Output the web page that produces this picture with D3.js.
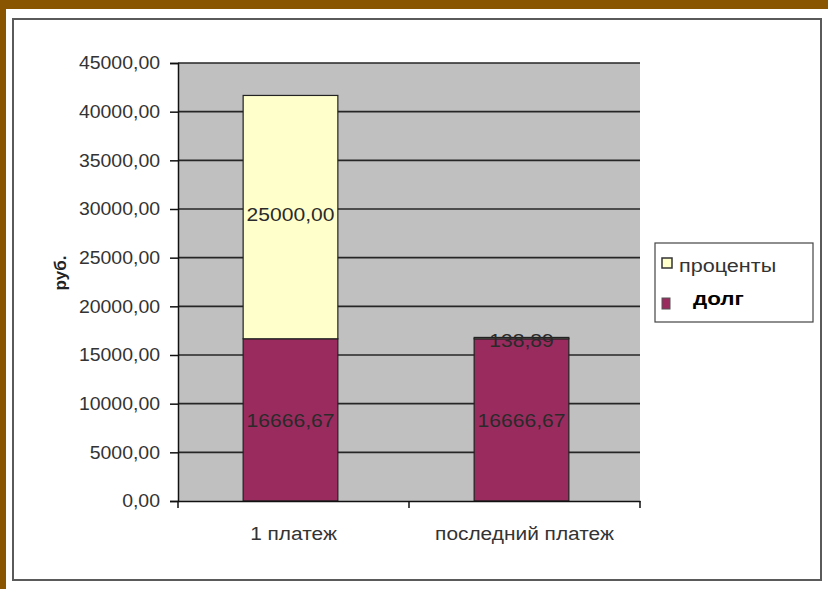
<!DOCTYPE html>
<html>
<head>
<meta charset="utf-8">
<script src="https://cdn.jsdelivr.net/npm/d3@7"></script>
<style>
  body { margin: 0; background: #fff; }
  text { font-family: "Liberation Sans", Arial, sans-serif; }
</style>
</head>
<body>
<svg id="chart" width="828" height="589"></svg>
<script>
// data
var categories = ['1 платеж', 'последний платеж'];
var debt = [16666.67, 16666.67];       // долг
var interest = [25000.00, 138.89];     // проценты
var seriesNames = ['проценты', 'долг'];
var yTicks = [0, 5000, 10000, 15000, 20000, 25000, 30000, 35000, 40000, 45000];

var svg = d3.select("svg");

// the old excel picture is a bit stretched sideways, so widen the glyphs
function stretch(sel, k)
{
  sel.each(function() {
    var w = this.getComputedTextLength();
    d3.select(this).attr("textLength", w * k).attr("lengthAdjust", "spacingAndGlyphs");
  });
}

// brown frame and white card
svg.append("rect").attr("x", 0).attr("y", 0).attr("width", 828).attr("height", 589).attr("fill", "#8a5500");
svg.append("rect").attr("x", 6).attr("y", 9).attr("width", 822).attr("height", 580).attr("fill", "#fff");
svg.append("rect").attr("x", 13).attr("y", 19).attr("width", 808).attr("height", 561)
   .attr("fill", "none").attr("stroke", "#5a5a5a").attr("stroke-width", 2);

var pLeft = 178, pRight = 640, pTop = 63, pBottom = 501;

var y = d3.scaleLinear().domain([0, 45000]).range([pBottom, pTop]);
var x = d3.scaleBand().domain(categories).range([pLeft, pRight]).padding(0);
var barW = x.bandwidth() * 0.41;

var fmt = function(v) { return d3.format(".2f")(v).replace('.', ','); };

// plot area
svg.append("rect").attr("x", pLeft).attr("y", pTop).attr("width", pRight - pLeft).attr("height", pBottom - pTop)
   .attr("fill", "#c0c0c0");

// gridlines
svg.append("g").selectAll("line").data(yTicks.slice(1)).enter().append("line")
   .attr("x1", pLeft).attr("x2", pRight)
   .attr("y1", function(d) { return y(d); }).attr("y2", function(d) { return y(d); })
   .attr("stroke", "#262626").attr("stroke-width", 1.6);

// stacked bars
var stack = categories.map(function(c, i) { return {cat: c, debt: debt[i], interest: interest[i]}; });

var bars = svg.append("g");
bars.selectAll(".debt").data(stack).enter().append("rect")
   .attr("class", "debt")
   .attr("x", function(d) { return x(d.cat) + x.bandwidth() / 2 - barW / 2 - 3; })
   .attr("y", function(d) { return y(d.debt); })
   .attr("width", barW)
   .attr("height", function(d) { return y(0) - y(d.debt); })
   .attr("fill", "#9a2b5f").attr("stroke", "#222").attr("stroke-width", 1.2);

bars.selectAll(".interest").data(stack).enter().append("rect")
   .attr("class", "interest")
   .attr("x", function(d) { return x(d.cat) + x.bandwidth() / 2 - barW / 2 - 3; })
   .attr("y", function(d) { return y(d.debt + d.interest); })
   .attr("width", barW)
   .attr("height", function(d) { return y(d.debt) - y(d.debt + d.interest); })
   .attr("fill", "#ffffcc").attr("stroke", "#222").attr("stroke-width", 1.2);

// value labels
var lab = svg.append("g").style("font-size", "18px").attr("fill", "#2a2a2a").attr("text-anchor", "middle");
lab.selectAll(".ld").data(stack).enter().append("text")
   .attr("class", "ld")
   .attr("x", function(d) { return x(d.cat) + x.bandwidth() / 2 - 3; })
   .attr("y", function(d) { return y(d.debt / 2) + 7; })
   .text(function(d) { return fmt(d.debt); });
lab.selectAll(".li").data(stack).enter().append("text")
   .attr("class", "li")
   .attr("x", function(d) { return x(d.cat) + x.bandwidth() / 2 - 3; })
   .attr("y", function(d, i) { return y(d.debt + d.interest / 2) + (i == 0 ? 4 : 9); })
   .text(function(d) { return fmt(d.interest); });
stretch(lab.selectAll("text"), 1.17);

// y axis
var yAxis = svg.append("g").attr("transform", "translate(" + pLeft + ",0)")
   .call(d3.axisLeft(y).tickValues(yTicks).tickFormat(fmt).tickSize(8).tickPadding(10));
yAxis.select(".domain").attr("stroke", "#111").attr("stroke-width", 1.5);
yAxis.selectAll(".tick line").attr("stroke", "#111").attr("stroke-width", 1.5);
yAxis.selectAll("text").style("font-size", "18px").attr("fill", "#333");
stretch(yAxis.selectAll("text"), 1.08);

// x axis
var xAxis = svg.append("g").attr("transform", "translate(0," + pBottom + ")")
   .call(d3.axisBottom(x).tickSize(0).tickPadding(26));
xAxis.select(".domain").attr("stroke", "#111").attr("stroke-width", 1.5);
xAxis.selectAll("text").style("font-size", "18px").attr("fill", "#333");
stretch(xAxis.selectAll("text"), 1.16);
xAxis.selectAll(".edge").data(categories.map(function(c) { return x(c); }).concat([pRight]))
   .enter().append("line").attr("class", "edge")
   .attr("x1", function(d) { return d; }).attr("x2", function(d) { return d; })
   .attr("y1", 0).attr("y2", 7).attr("stroke", "#111").attr("stroke-width", 1.5);

// y title
svg.append("text").attr("transform", "translate(66,273) rotate(-90)")
   .attr("text-anchor", "middle").style("font-size", "17px").style("font-weight", "bold")
   .attr("fill", "#222").text("руб.");

// legend
var lg = svg.append("g");
lg.append("rect").attr("x", 655).attr("y", 243).attr("width", 158).attr("height", 79)
   .attr("fill", "#fff").attr("stroke", "#444").attr("stroke-width", 1.2);
lg.append("rect").attr("x", 662).attr("y", 258).attr("width", 10).attr("height", 10)
   .attr("fill", "#ffffcc").attr("stroke", "#333").attr("stroke-width", 1.5);
var t1 = lg.append("text").attr("x", 679).attr("y", 272).style("font-size", "18px").attr("fill", "#333")
   .text(seriesNames[0]);
stretch(t1, 1.2);
lg.append("rect").attr("x", 662).attr("y", 298).attr("width", 8).attr("height", 11)
   .attr("fill", "#9a2b5f").attr("stroke", "#555").attr("stroke-width", 1);
var t2 = lg.append("text").attr("x", 693).attr("y", 305).style("font-size", "19px").style("font-weight", "bold")
   .attr("fill", "#000").text(seriesNames[1]);
stretch(t2, 1.18);
</script>
</body>
</html>
